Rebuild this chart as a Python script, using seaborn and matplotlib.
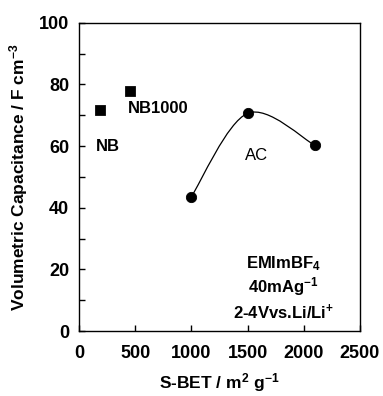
import numpy as np
import pandas as pd
import seaborn as sns
import matplotlib.pyplot as plt
from matplotlib.path import Path
from matplotlib.patches import PathPatch
from matplotlib.ticker import MultipleLocator

# NB samples (squares)
nb_names = ["NB", "NB1000"]
nb_sbet = [190, 450]
nb_cap = [71.6, 77.9]

# activated carbon (circles, smoothed line)
ac_sbet = [1000, 1500, 2100]
ac_cap = [43.6, 70.6, 60.2]

notes = ["EMImBF$_4$", "40mAg$^{-1}$", "2-4Vvs.Li/Li$^{+}$"]

sns.set_style("ticks")
plt.rcParams['font.family'] = ['Liberation Sans', 'DejaVu Sans']
plt.rcParams['mathtext.fontset'] = 'custom'
plt.rcParams['mathtext.rm'] = 'Liberation Sans:bold'
plt.rcParams['mathtext.it'] = 'Liberation Sans:bold'
plt.rcParams['mathtext.bf'] = 'Liberation Sans:bold'
for key in ['text.color', 'axes.labelcolor', 'xtick.color', 'ytick.color']:
    plt.rcParams[key] = 'black'

fig = plt.figure(figsize=(3.83, 3.96), dpi=100)
ax = fig.add_axes([79 / 383, 65 / 396, 281 / 383, 308.3 / 396])

nb = pd.DataFrame({"sbet": nb_sbet, "cap": nb_cap, "name": nb_names})
ac = pd.DataFrame({"sbet": ac_sbet, "cap": ac_cap})


def smooth_path(xs, ys):
    # excel-like smoothed line: cubic bezier with catmull-rom control points
    pts = np.column_stack([xs, ys]).astype(float)
    ext = np.vstack([pts[0], pts, pts[-1]])
    verts = [pts[0]]
    codes = [Path.MOVETO]
    for i in range(1, len(ext) - 2):
        p0, p1, p2, p3 = ext[i - 1], ext[i], ext[i + 1], ext[i + 2]
        verts += [p1 + (p2 - p0) / 6, p2 - (p3 - p1) / 6, p2]
        codes += [Path.CURVE4] * 3
    return Path(verts, codes)


ax.add_patch(PathPatch(smooth_path(ac.sbet, ac.cap), fill=False,
                       edgecolor="black", lw=0.9))

sns.scatterplot(data=nb, x="sbet", y="cap", marker="s", s=50, color="black",
                edgecolor="black", ax=ax, zorder=3)
sns.scatterplot(data=ac, x="sbet", y="cap", marker="o", s=55, color="black",
                edgecolor="black", ax=ax, zorder=3)

ax.set_xlim(0, 2500)
ax.set_ylim(0, 100)
ax.xaxis.set_major_locator(MultipleLocator(500))
ax.yaxis.set_major_locator(MultipleLocator(20))
ax.yaxis.set_minor_locator(MultipleLocator(10))
ax.tick_params(axis="both", which="both", direction="in", top=False,
               right=False, labelsize=13)
ax.tick_params(axis="x", which="major", length=4, width=1, pad=10)
ax.tick_params(axis="y", which="major", length=4, width=1, pad=7)
ax.tick_params(axis="y", which="minor", length=4, width=1)
for lab in ax.get_xticklabels() + ax.get_yticklabels():
    lab.set_fontweight("bold")
for sp in ax.spines.values():
    sp.set_visible(True)
    sp.set_linewidth(1)
    sp.set_color("black")

ax.set_xlabel("S-BET / m$^{2}$ g$^{-1}$", fontsize=12.5, fontweight="bold")
ax.set_ylabel("Volumetric Capacitance / F cm$^{-3}$", fontsize=12.5,
              fontweight="bold")
ax.xaxis.label.set_va("center")
ax.xaxis.set_label_coords(0.5, -52 / 308.3)
ax.yaxis.label.set(va="center", ha="center", rotation_mode="default")
ax.yaxis.set_label_coords(-60 / 281, 0.5)

ax.text(151, 60, "NB", fontsize=12, fontweight="bold", va="center")
ax.text(436, 72.2, "NB1000", fontsize=12, fontweight="bold", va="center")
ax.text(1477, 56.8, "AC", fontsize=12, va="center")
for note, y in zip(notes, [22, 14.3, 6.2]):
    ax.text(1816, y, note, fontsize=12, fontweight="bold", ha="center",
            va="center")

fig.savefig("out.png", dpi=100)
